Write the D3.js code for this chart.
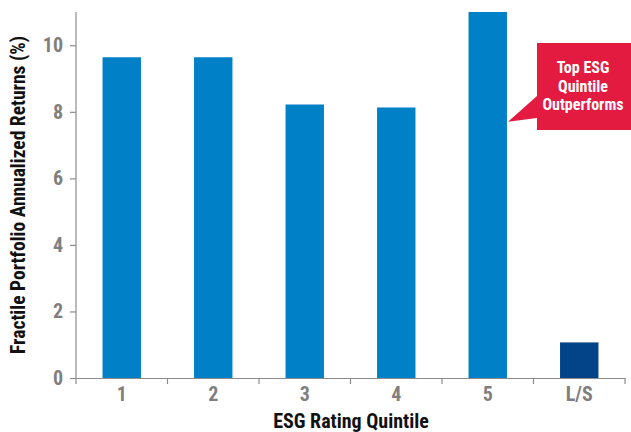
<!DOCTYPE html>
<html>
<head>
<meta charset="utf-8">
<script src="https://cdn.jsdelivr.net/npm/d3@7"></script>
<style>
  body { margin: 0; background: #fff; }
  svg text { font-family: "Liberation Sans Narrow", "Roboto Condensed", "Arial Narrow", sans-serif; }
</style>
</head>
<body>
<div id="chart"></div>
<script>
// data
const categories = ["1", "2", "3", "4", "5", "L/S"];
const returns = [9.64, 9.64, 8.22, 8.13, 11.0, 1.07];
const yTicks = [0, 2, 4, 6, 8, 10];
const calloutLines = ["Top ESG", "Quintile", "Outperforms"];

const width = 631, height = 432;
const margin = { top: 12, right: 6, bottom: 54, left: 76 };

const svg = d3.select("#chart").append("svg")
  .attr("width", width).attr("height", height);

const x = d3.scaleBand()
  .domain(categories)
  .range([margin.left, width - margin.right])
  .paddingInner(0.58).paddingOuter(0.29);

const y = d3.scaleLinear()
  .domain([0, 11])
  .range([height - margin.bottom, margin.top]);

// bars
svg.selectAll("rect.bar")
  .data(categories.map((c, i) => ({ c, v: returns[i] })))
  .enter().append("rect")
  .attr("class", "bar")
  .attr("x", d => x(d.c))
  .attr("width", x.bandwidth())
  .attr("y", d => y(d.v))
  .attr("height", d => y(0) - y(d.v))
  .attr("fill", d => d.c === "L/S" ? "#034488" : "#0080c6");

// y axis
const yAxis = svg.append("g")
  .attr("transform", `translate(${margin.left},0)`)
  .call(d3.axisLeft(y).tickValues(yTicks).tickSize(6).tickPadding(7));
yAxis.select(".domain").attr("d", `M0,${y(0)}V${margin.top}`);

// x axis with ticks at band boundaries
const xAxis = svg.append("g")
  .attr("transform", `translate(0,${y(0)})`)
  .call(d3.axisBottom(x).tickSize(0).tickPadding(9));
const step = x.step();
const bounds = d3.range(categories.length + 1).map(i => margin.left + i * step);
xAxis.selectAll("line.sep")
  .data(bounds)
  .enter().append("line")
  .attr("class", "sep")
  .attr("x1", d => d).attr("x2", d => d)
  .attr("y1", 0).attr("y2", 6);

svg.selectAll(".domain, .tick line, line.sep")
  .attr("stroke", "#8c8c8c").attr("stroke-width", 1.2);
svg.selectAll(".tick text")
  .attr("fill", "#7f7f7f")
  .attr("font-size", "20px")
  .attr("font-weight", "bold")
  .attr("font-family", "'Liberation Sans Narrow', 'Arial Narrow', sans-serif");

// axis titles
svg.append("text")
  .attr("x", 351)
  .attr("y", 428)
  .attr("text-anchor", "middle")
  .attr("font-size", "20px")
  .attr("font-weight", "bold")
  .attr("fill", "#111")
  .text("ESG Rating Quintile");

svg.append("text")
  .attr("transform", `translate(25,${(y(0) + margin.top) / 2}) rotate(-90)`)
  .attr("text-anchor", "middle")
  .attr("font-size", "19.5px")
  .attr("font-weight", "bold")
  .attr("fill", "#111")
  .text("Fractile Portfolio Annualized Returns (%)");

// callout box
const bx = 537, by = 43, bw = 94, bh = 87;
const tip = [x("5") + x.bandwidth() + 1, y(7.7)];
svg.append("path")
  .attr("d", `M${bx},${by}H${bx + bw}V${by + bh}H${bx}V118L${tip[0]},${tip[1]}L${bx},96Z`)
  .attr("fill", "#e31b40");

svg.append("text")
  .attr("x", bx + bw / 2 - 1)
  .attr("y", 73)
  .attr("text-anchor", "middle")
  .attr("fill", "#fff")
  .attr("font-size", "16px")
  .attr("font-weight", "bold")
  .selectAll("tspan")
  .data(calloutLines)
  .enter().append("tspan")
  .attr("x", bx + bw / 2 - 1)
  .attr("dy", (d, i) => i === 0 ? 0 : 18.5)
  .text(d => d);
</script>
</body>
</html>
